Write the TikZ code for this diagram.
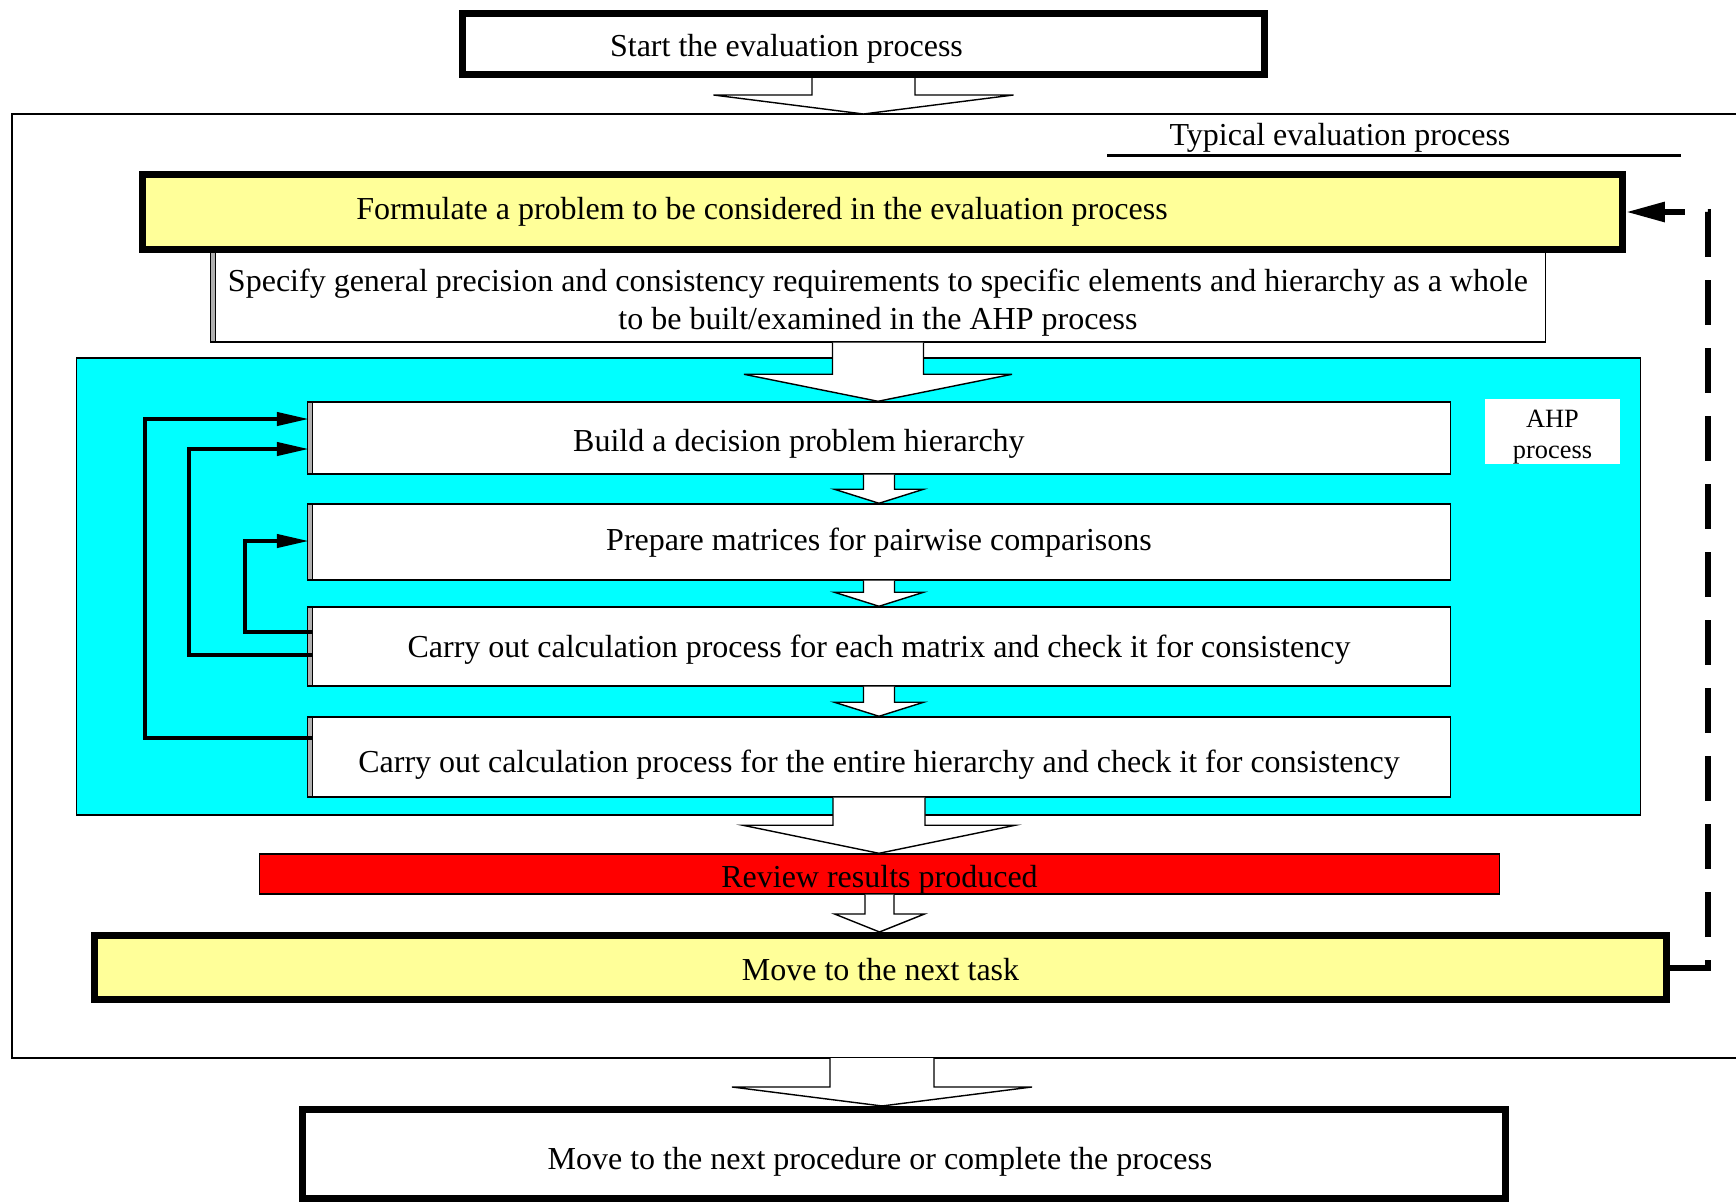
\documentclass[tikz,border=0pt]{standalone}
\usepackage{fontspec}
\setmainfont{Liberation Serif}
\usetikzlibrary{positioning,arrows.meta,calc}
\definecolor{PaleYellow}{RGB}{255,255,153}
\definecolor{AhpCyan}{RGB}{0,255,255}
\definecolor{AlertRed}{RGB}{255,0,0}
\definecolor{EdgeGray}{RGB}{175,175,175}

% hollow block arrow: from, to, shaft half width, head half width, head length
\newcommand{\hollowarrow}[5]{%
  \filldraw[blockarrow] ($(#1)+(-#3,0)$) -- ($(#1 |- #2)+(-#3,-#5)$) -- ($(#1 |- #2)+(-#4,-#5)$)
    -- (#1 |- #2) -- ($(#1 |- #2)+(#4,-#5)$) -- ($(#1 |- #2)+(#3,-#5)$) -- ($(#1)+(#3,0)$);}

\begin{document}
\begin{tikzpicture}[x=0.01cm,y=-0.01cm,
    every node/.style={font=\fontsize{9.1}{10.8}\selectfont,inner sep=0pt},
    heavybox/.style={rectangle,draw=black,line width=0.07cm},
    bevel/.style={path picture={
        \fill[EdgeGray] (path picture bounding box.south west) rectangle ([xshift=0.05cm]path picture bounding box.north west);
        \draw[line width=0.4pt] ([xshift=0.05cm]path picture bounding box.south west) -- ([xshift=0.05cm]path picture bounding box.north west);}},
    stepbox/.style={rectangle,draw=black,fill=white,line width=0.4pt,minimum width=11.42cm,bevel,text depth=0.07cm},
    blockarrow/.style={draw=black,fill=white,line width=0.4pt},
    loopline/.style={line width=0.04cm,-{Triangle[length=0.32cm,width=0.13cm]}},
    feedback/.style={line width=0.06cm,dash pattern=on 0.45cm off 0.23cm,-{Triangle[length=0.39cm,width=0.19cm]}}
]
\useasboundingbox (0,0) rectangle (1736,1203);

% Start
\node[heavybox,minimum width=8.02cm,minimum height=0.61cm,text height=0.31cm,text depth=0.07cm] (start) at (863.5,44) {Start the evaluation process\hspace*{1.54cm}};

% Typical evaluation process frame
\coordinate (frametop) at (860,114);
\coordinate (framebot) at (882,1058);
\draw[line width=0.4pt] (1740,114) -| (12,1058) -- (1740,1058);
\node (typical) at (1340,138) {Typical evaluation process};
\draw[line width=0.03cm] (1107,155) -- (1681,155);

% Problem and requirements
\node[rectangle,draw,fill=white,bevel,minimum width=13.34cm,minimum height=0.92cm,align=center] (specify) at (878,296) {\rule{0pt}{0.35cm}Specify general precision and consistency requirements to specific elements and hierarchy as a whole\\to be built/examined in the AHP process};
\node[heavybox,fill=PaleYellow,minimum width=14.79cm,minimum height=0.74cm] (formulate) at (882.5,212) {Formulate a problem to be considered in the evaluation process\hspace*{2.41cm}};

% AHP process
\node[rectangle,draw,fill=AhpCyan,minimum width=15.63cm,minimum height=4.57cm] (ahp) at (858.5,586.5) {};
\node[stepbox,minimum height=0.72cm,text height=0.33cm] (build) at (879,438) {Build a decision problem hierarchy\hspace*{1.6cm}};
\node[stepbox,minimum height=0.76cm,text height=0.24cm] (prepare) at (879,542) {Prepare matrices for pairwise comparisons};
\node[stepbox,minimum height=0.79cm,text height=0.29cm] (each) at (879,646.5) {Carry out calculation process for each matrix and check it for consistency};
\node[stepbox,minimum height=0.80cm,text height=0.37cm] (entire) at (879,757) {Carry out calculation process for the entire hierarchy and check it for consistency};
\node[fill=white,minimum width=1.35cm,minimum height=0.61cm,align=center,font=\fontsize{7.5}{8.8}\selectfont] (ahplabel) at (1552.5,431.5) {\rule{0pt}{0.28cm}AHP\\process};

% Review and next task
\node[rectangle,draw,fill=AlertRed,minimum width=12.39cm,minimum height=0.40cm,text height=0.33cm,text depth=0.07cm] (review) at (879.5,874) {Review results produced};
\node[heavybox,fill=PaleYellow,minimum width=15.72cm,minimum height=0.64cm,text height=0.33cm,text depth=0.07cm] (nexttask) at (880.5,967.5) {Move to the next task};

% End
\node[heavybox,minimum width=12.03cm,minimum height=0.89cm,text height=0.38cm,text depth=0.07cm] (final) at (904,1154) {Move to the next procedure or complete the process\hspace*{0.48cm}};

% Block arrows
\hollowarrow{start.south}{frametop}{51.5}{150}{19}
\hollowarrow{specify.south}{build.north}{45.5}{134}{27}
\hollowarrow{build.south}{prepare.north}{15.5}{44.5}{14}
\hollowarrow{prepare.south}{each.north}{15.5}{44.5}{14}
\hollowarrow{each.south}{entire.north}{15.5}{44.5}{14}
\hollowarrow{entire.south}{review.north}{46}{136}{28}
\hollowarrow{review.south}{nexttask.north}{14.5}{45}{18}
\hollowarrow{framebot}{final.north}{52}{150}{19}

% Iteration loops
\draw[loopline] ($(entire.west)+(5,-19)$) -| (145,419) -- ($(build.west)+(2,-19)$);
\draw[loopline] ($(each.west)+(5,8.5)$) -| (189,449) -- ($(build.west)+(2,11)$);
\draw[loopline] ($(each.west)+(5,-14.5)$) -| (245,541) -- ($(prepare.west)+(2,-1)$);

% Feedback to the next task
\draw[feedback] (nexttask.east) -| (1708,212) -- (formulate.east);

\end{tikzpicture}
\end{document}
